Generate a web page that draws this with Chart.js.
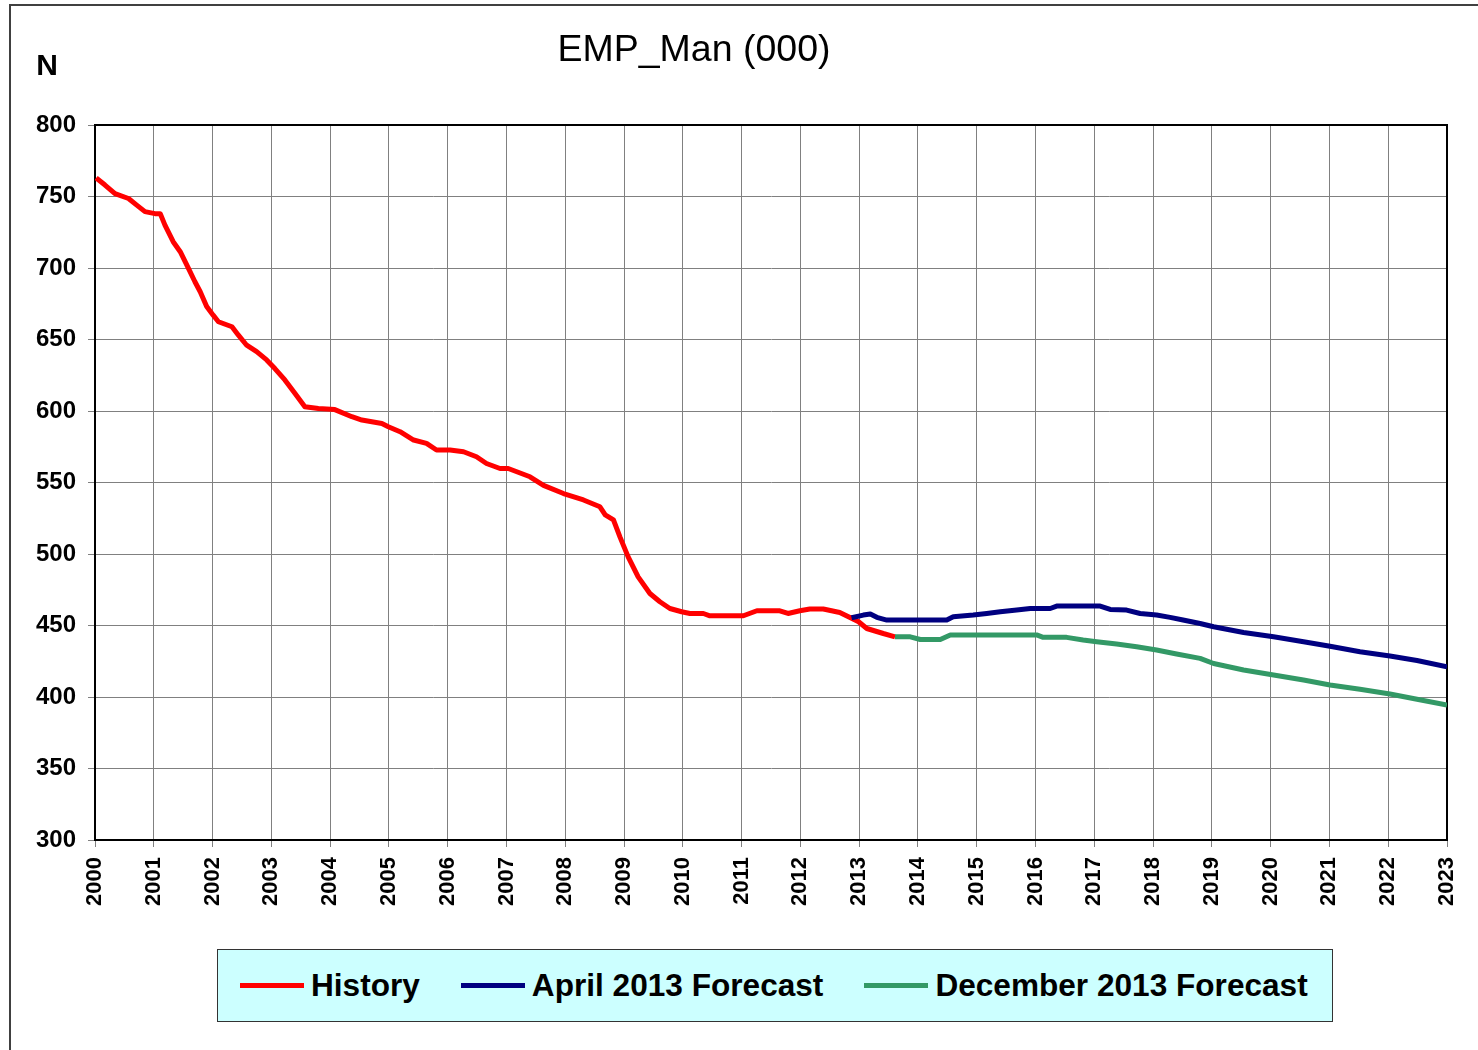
<!DOCTYPE html>
<html>
<head>
<meta charset="utf-8">
<script src="https://cdn.jsdelivr.net/npm/chart.js@4/dist/chart.umd.min.js"></script>
<style>
html, body { margin: 0; padding: 0; background: #ffffff; }
#wrap { position: relative; width: 1478px; height: 1050px; overflow: hidden; font-family: "Liberation Sans", Arial, sans-serif; }
#frame { position: absolute; left: 9px; top: 4px; width: 1500px; height: 1100px; border-top: 2px solid #404040; border-left: 2px solid #404040; }
#c { position: absolute; left: 0; top: 0; }
#legend { position: absolute; left: 217px; top: 949px; width: 1116px; height: 73px; box-sizing: border-box; background: #CCFFFF; border: 1px solid #333333; display: flex; align-items: center; padding-left: 22px; }
.item { display: flex; align-items: center; margin-right: 41px; }
.swatch { width: 64px; height: 5px; margin-right: 7px; }
.lbl { font: bold 31.6px "Liberation Sans", Arial, sans-serif; color: #000; white-space: nowrap; }
</style>
</head>
<body>
<div id="wrap">
  <div id="frame"></div>
  <canvas id="c" width="1478" height="1050"></canvas>
  <div id="legend"></div>
</div>
<script>
// ---- Data (decimal years, thousands) ----
const chartTitle = "EMP_Man (000)";
const unitLabel = "N";

const historyDates = [2000.02, 2000.17, 2000.34, 2000.57, 2000.71, 2000.85, 2001.02, 2001.11, 2001.19, 2001.33,
  2001.45, 2001.59, 2001.70, 2001.79, 2001.90, 2002.01, 2002.10, 2002.33, 2002.44, 2002.58,
  2002.75, 2002.92, 2003.06, 2003.23, 2003.40, 2003.57, 2003.80, 2004.08, 2004.37, 2004.54,
  2004.88, 2004.99, 2005.19, 2005.42, 2005.64, 2005.81, 2006.04, 2006.27, 2006.49, 2006.66,
  2006.89, 2007.03, 2007.40, 2007.63, 2007.97, 2008.31, 2008.59, 2008.68, 2008.82, 2008.93,
  2009.07, 2009.24, 2009.44, 2009.61, 2009.78, 2009.98, 2010.12, 2010.35, 2010.46, 2011.03,
  2011.26, 2011.65, 2011.79, 2011.99, 2012.16, 2012.39, 2012.67, 2012.87, 2012.99, 2013.13,
  2013.41, 2013.61];
const historyValues = [763, 758, 752, 748.6, 744, 739.4, 738, 738, 730, 718.4,
  711.4, 699.8, 690.4, 683.4, 673, 667, 662.4, 658.9, 653, 646,
  641.5, 635.7, 629.7, 621.7, 612.4, 603, 601.7, 601, 596, 593.7,
  591.3, 589, 585.5, 579.7, 577.4, 572.7, 572.7, 571.5, 568, 563.3,
  559.8, 559.8, 554, 548, 542.3, 537.8, 533, 527.3, 523.8, 512,
  498, 484, 472.4, 466.6, 461.9, 459.6, 458.4, 458.4, 456.8, 456.8,
  460.3, 460.3, 458.4, 460.3, 461.5, 461.5, 459.1, 455, 452.6, 447.9,
  444.4, 442.1];

const aprilDates = [2012.87, 2013.07, 2013.19, 2013.30, 2013.47, 2013.98, 2014.49, 2014.60, 2014.94, 2015.17,
  2015.40, 2015.68, 2015.91, 2016.25, 2016.36, 2017.10, 2017.27, 2017.55, 2017.78, 2018.06,
  2018.29, 2018.51, 2018.80, 2019.03, 2019.54, 2020.05, 2020.56, 2021.01, 2021.52, 2022.03,
  2022.49, 2023.00];
const aprilValues = [455.4, 457.3, 458, 455.7, 453.8, 453.8, 453.8, 456.1, 457.3, 458.4,
  459.6, 460.8, 461.9, 461.9, 463.6, 463.6, 461.2, 460.8, 458.4, 457.3,
  455.7, 453.8, 451.4, 449.1, 445.1, 442.1, 438.7, 435.5, 431.7, 428.7,
  425.5, 421.2];

const decemberDates = [2013.61, 2013.87, 2014.04, 2014.38, 2014.55, 2015.11, 2016.02, 2016.13, 2016.53, 2016.81,
  2017.04, 2017.38, 2017.72, 2018.06, 2018.40, 2018.80, 2019.03, 2019.54, 2020.05, 2020.56,
  2021.01, 2021.52, 2022.03, 2022.49, 2023.00];
const decemberValues = [442.1, 442.1, 440.2, 440.2, 443.4, 443.4, 443.4, 441.7, 441.7, 439.9,
  438.7, 437.1, 435.2, 432.9, 430.1, 427, 423.4, 418.9, 415.4, 411.9,
  408.4, 405.4, 402.1, 398.4, 394.4];

const seriesNames = ["History", "April 2013 Forecast", "December 2013 Forecast"];
const seriesColors = ["#FF0000", "#000080", "#339966"];

const yMin = 300, yMax = 800, yStep = 50;
const xMin = 2000, xMax = 2023, xStep = 1;

function pts(dates, vals) { return dates.map((d, i) => ({ x: d, y: vals[i] })); }

const FONT = '"Liberation Sans", Arial, sans-serif';

const decor = {
  id: 'decor',
  beforeDatasetsDraw(chart) {
    const a = chart.chartArea, ctx = chart.ctx;
    ctx.save();
    ctx.strokeStyle = '#000';
    ctx.lineWidth = 2;
    ctx.strokeRect(a.left, a.top, a.right - a.left, a.bottom - a.top);
    ctx.restore();
  },
  afterDraw(chart) {
    const ctx = chart.ctx;
    ctx.save();
    ctx.fillStyle = '#000';
    ctx.textAlign = 'center';
    ctx.textBaseline = 'alphabetic';
    ctx.font = '37.5px ' + FONT;
    ctx.fillText(chartTitle, 694, 61);
    ctx.font = 'bold 30px ' + FONT;
    ctx.fillText(unitLabel, 47, 75);
    ctx.restore();
  }
};

const chart = new Chart(document.getElementById('c'), {
  type: 'line',
  data: {
    datasets: [
      { label: seriesNames[0], data: pts(historyDates, historyValues), borderColor: seriesColors[0], order: 2 },
      { label: seriesNames[1], data: pts(aprilDates, aprilValues), borderColor: seriesColors[1], order: 1 },
      { label: seriesNames[2], data: pts(decemberDates, decemberValues), borderColor: seriesColors[2], order: 0 }
    ]
  },
  options: {
    responsive: false,
    animation: false,
    devicePixelRatio: 1,
    layout: { padding: { left: 0, top: 125, right: 31, bottom: 0 } },
    elements: {
      line: { borderWidth: 5, tension: 0, borderJoinStyle: 'round', borderCapStyle: 'butt', fill: false },
      point: { radius: 0, hoverRadius: 0 }
    },
    plugins: { legend: { display: false }, title: { display: false }, tooltip: { enabled: false } },
    scales: {
      x: {
        type: 'linear', min: xMin, max: xMax,
        afterFit(s) { s.height = 210; s.paddingLeft = 0; s.paddingRight = 0; },
        ticks: {
          stepSize: xStep, autoSkip: false, minRotation: 90, maxRotation: 90, padding: 10,
          color: '#000', font: { family: FONT, size: 22, weight: 'bold' },
          callback: v => String(v)
        },
        grid: { color: '#808080', lineWidth: 1, tickLength: 7, drawTicks: true },
        border: { color: '#000', width: 2 }
      },
      y: {
        min: yMin, max: yMax,
        afterFit(s) { s.width = 95; s.paddingTop = 0; s.paddingBottom = 0; },
        ticks: {
          stepSize: yStep, padding: 12, color: '#000',
          font: { family: FONT, size: 24, weight: 'bold' },
          callback: v => String(v)
        },
        grid: { color: '#808080', lineWidth: 1, tickLength: 7, drawTicks: true },
        border: { color: '#000', width: 2 }
      }
    }
  },
  plugins: [decor]
});

// HTML legend built from the chart's datasets
const lg = document.getElementById('legend');
chart.data.datasets.forEach(ds => {
  const it = document.createElement('div'); it.className = 'item';
  const sw = document.createElement('div'); sw.className = 'swatch'; sw.style.background = ds.borderColor;
  const tx = document.createElement('span'); tx.className = 'lbl'; tx.textContent = ds.label;
  it.appendChild(sw); it.appendChild(tx); lg.appendChild(it);
});
</script>
</body>
</html>
